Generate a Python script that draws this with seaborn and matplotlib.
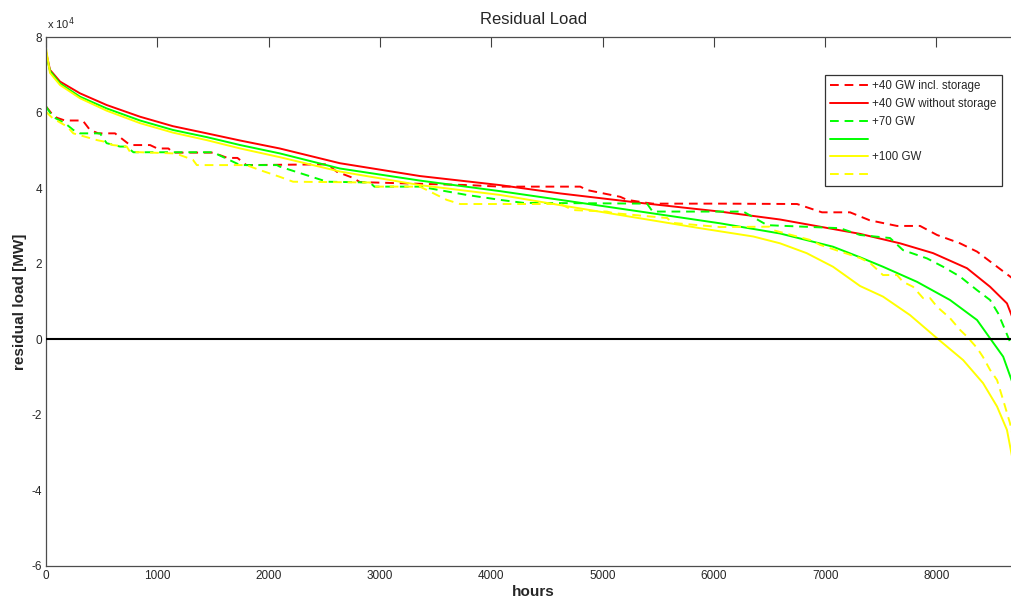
import matplotlib
matplotlib.use("Agg")
import matplotlib.pyplot as plt
import seaborn as sns

# load duration curves, hours of the year vs residual load in MW
rd_h = [0, 60, 100, 170, 330, 395, 470, 620, 755, 935, 1000, 1100, 1140, 1500, 1630, 1720, 1800,
        2525, 2615, 2760, 2820, 3300, 3800, 4080, 4375, 4800, 4860, 5160, 5220, 5400, 5450, 6055,
        6748, 6972, 7224, 7400, 7646, 7853, 8006, 8212, 8365, 8545, 8680]
rd_mw = [61600, 59400, 58600, 57900, 57900, 55400, 54500, 54500, 51400, 51400, 50500, 50500, 49400,
         49400, 48000, 48000, 46100, 46300, 44300, 42700, 41600, 41200, 40800, 40400, 40400, 40400,
         39500, 37700, 36900, 36100, 35900, 35900, 35800, 33600, 33600, 31500, 30000, 30000, 27600,
         25400, 23200, 19200, 16200]

rs_h = [0, 36, 126, 305, 545, 845, 1140, 1445, 1745, 2100, 2640, 3360, 4080, 4620, 5340, 6055,
        6595, 7314, 7673, 7970, 8275, 8482, 8634, 8680]
rs_mw = [76100, 71300, 68200, 65100, 62000, 58900, 56400, 54500, 52600, 50500, 46600, 43200, 40800,
         38600, 36100, 33800, 31700, 27900, 25400, 22800, 18800, 13900, 9500, 6000]

gd_h = [0, 60, 170, 245, 305, 485, 545, 665, 725, 785, 1140, 1500, 1745, 2075, 2100, 2525, 2910,
        2950, 3360, 3780, 4080, 4290, 5400, 5450, 6265, 6480, 7134, 7314, 7583, 7700, 7916, 8060,
        8212, 8365, 8482, 8554, 8617, 8680]
gd_mw = [61600, 58900, 57200, 55400, 54500, 54500, 51900, 51000, 51000, 49500, 49500, 49500, 46100,
         46100, 45700, 41700, 41500, 40400, 40400, 38200, 36900, 36100, 35900, 33800, 33800, 30200,
         29400, 27600, 26800, 23600, 21400, 19200, 16600, 13000, 10400, 6900, 2500, -2000]

gs_h = [0, 36, 126, 305, 545, 845, 1140, 1445, 1745, 2100, 2640, 3360, 4080, 4620, 5340, 6055,
        6595, 7071, 7314, 7520, 7826, 8122, 8365, 8482, 8600, 8680]
gs_mw = [75500, 71000, 67700, 64200, 61100, 57900, 55400, 53500, 51400, 49200, 45200, 42000, 39200,
         36900, 33800, 30700, 28000, 24500, 21700, 19200, 15200, 10400, 5100, 260, -4600, -11200]

ys_h = [0, 36, 126, 305, 545, 845, 1140, 1445, 1745, 2100, 2640, 3360, 4080, 4620, 5340, 5876,
        6355, 6595, 6834, 7071, 7314, 7520, 7763, 8006, 8240, 8419, 8545, 8634, 8680]
ys_mw = [77000, 70500, 67300, 63800, 60500, 57200, 54700, 52700, 50500, 48200, 44400, 40800, 38200,
         35500, 32000, 29400, 27200, 25400, 22800, 19200, 14100, 11300, 6400, 260, -5500, -11600,
         -17800, -24000, -31100]

yd_h = [0, 60, 190, 245, 460, 525, 600, 725, 755, 1140, 1200, 1320, 1355, 1800, 1920, 2100, 2220,
        2910, 2950, 3360, 3600, 3720, 4620, 4735, 5040, 5095, 5580, 5630, 6055, 6505, 6530, 6864,
        6954, 7314, 7404, 7520, 7646, 7700, 7790, 7880, 7943, 8006, 8122, 8212, 8275, 8365, 8419,
        8482, 8545, 8600, 8661, 8680]
yd_mw = [60200, 58500, 56300, 54500, 52700, 52300, 51400, 51000, 49600, 49200, 48800, 47500, 46100,
         46100, 44800, 43000, 41700, 41500, 40400, 40400, 36900, 35800, 35800, 34200, 33800, 33400,
         32100, 30800, 29700, 29800, 28900, 26300, 25000, 21500, 20200, 17000, 17000, 15200, 13900,
         10900, 10900, 8600, 5600, 2500, 700, -2300, -4700, -8100, -10800, -16100, -22200, -24800]

labels = ['+40 GW incl. storage', '+40 GW without storage', '+70 GW', ' ', '+100 GW', ' ']

sns.set_style("white")
plt.rcParams['font.family'] = ['Liberation Sans', 'DejaVu Sans']
plt.rcParams['lines.dashed_pattern'] = [4.5, 3]

fig = plt.figure(figsize=(10.12, 6.03), dpi=100)
# right spine sits just outside the picture, as in the cropped original
ax = fig.add_axes([46 / 1012, 37 / 603, 975 / 1012, 529 / 603])

series = [
    (rd_h, rd_mw, '#ff0000', '--'),
    (rs_h, rs_mw, '#ff0000', '-'),
    (gd_h, gd_mw, '#00ff00', '--'),
    (gs_h, gs_mw, '#00ff00', '-'),
    (ys_h, ys_mw, '#ffff00', '-'),
    (yd_h, yd_mw, '#ffff00', '--'),
]
for h, mw, c, ls in series:
    sns.lineplot(x=h, y=mw, ax=ax, color=c, linestyle=ls, linewidth=1.4,
                 estimator=None, sort=False)

handles = list(ax.get_lines())
ax.axhline(0, color='k', linewidth=1.5, zorder=5)

ax.set_xlim(0, 8760)
ax.set_ylim(-60000, 80000)
ax.set_xticks(range(0, 8001, 1000))
yt = list(range(-60000, 80001, 20000))
ax.set_yticks(yt)
ax.set_yticklabels([f"{v / 1e4:g}" for v in yt])
ax.tick_params(direction='in', length=7, width=0.8, top=True, right=True,
               labelsize=8.5, color='0.25', pad=3)
for s in ax.spines.values():
    s.set_color('0.3')
    s.set_linewidth(0.9)

fig.text(47 / 1012, 1 - 32 / 603, r'x 10$^4$', fontsize=8, va='bottom', ha='left')

ax.set_title('Residual Load', fontsize=12, pad=9)
ax.set_xlabel('hours', fontsize=11, fontweight='bold', labelpad=2)
ax.set_ylabel('residual load [MW]', fontsize=11, fontweight='bold', labelpad=3)

leg = ax.legend(handles, labels, loc='upper left', bbox_to_anchor=(0.799, 0.928),
                fontsize=8.3, frameon=True, fancybox=False, edgecolor='k',
                handlelength=3.3, labelspacing=0.5, borderpad=0.45, handletextpad=0.35,
                borderaxespad=0)
leg.get_frame().set_linewidth(0.9)

fig.savefig('out.png', dpi=100)
